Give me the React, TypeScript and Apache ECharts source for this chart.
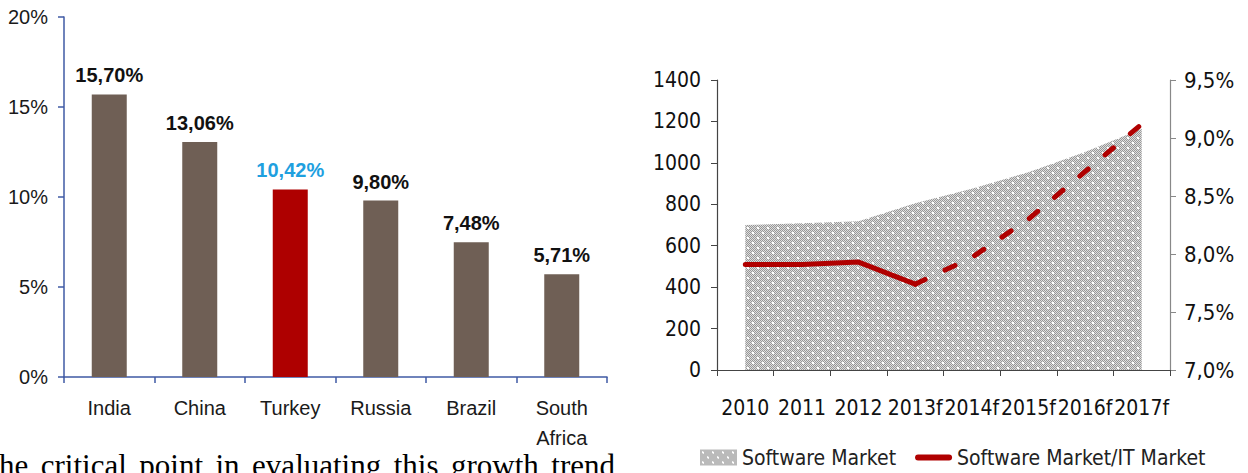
import React, { useEffect, useRef } from "react";
import * as echarts from "echarts";

// ---- Left chart data ----
const countries = ["India", "China", "Turkey", "Russia", "Brazil", "South Africa"];
const growthRates = [15.7, 13.06, 10.42, 9.8, 7.48, 5.71];
const highlightCountry = "Turkey";

// ---- Right chart data ----
const years = ["2010", "2011", "2012", "2013f", "2014f", "2015f", "2016f", "2017f"];
const softwareMarket = [700, 708, 718, 805, 875, 955, 1052, 1165];
const shareActual = [7.91, 7.91, 7.93, 7.74, null, null, null, null];
const shareForecast = [null, null, null, 7.74, 7.97, 8.3, 8.71, 9.12];

// ---- Text below ----
const bodyWords = ["he", "critical", "point", "in", "evaluating", "this", "growth", "trend"];

const SANS = "'Liberation Sans', Arial, sans-serif";
const COND = "'DejaVu Sans Condensed', 'DejaVu Sans', sans-serif";
const SERIF_FONT = "31px 'Liberation Serif', 'Times New Roman', serif";

function makePattern() {
  const c = document.createElement("canvas");
  c.width = 10;
  c.height = 10;
  const ctx = c.getContext("2d")!;
  for (let y = 0; y < 10; y++) {
    for (let x = 0; x < 10; x++) {
      ctx.fillStyle = (x + y) % 2 === 0 ? "#969696" : "#dedede";
      ctx.fillRect(x, y, 1, 1);
    }
  }
  ctx.fillStyle = "#ffffff";
  ctx.fillRect(2, 2, 2, 2);
  ctx.fillRect(7, 7, 2, 2);
  return { image: c, repeat: "repeat", imageWidth: 10, imageHeight: 10 } as any;
}

function justifiedWords(words: string[], totalWidth: number) {
  const ctx = document.createElement("canvas").getContext("2d")!;
  ctx.font = SERIF_FONT;
  const widths = words.map((w) => ctx.measureText(w).width);
  const sum = widths.reduce((a, b) => a + b, 0);
  const gap = (totalWidth - sum) / (words.length - 1);
  let x = -1;
  return words.map((w, i) => {
    const el = {
      type: "text",
      x,
      y: 465.5,
      silent: true,
      style: { text: w, font: SERIF_FONT, fill: "#000", verticalAlign: "middle", align: "left" },
    };
    x += widths[i] + gap;
    return el;
  });
}

export default function App() {
  const ref = useRef<HTMLDivElement>(null);
  useEffect(() => {
    if (!ref.current) return;
    const chart = echarts.init(ref.current, null, { renderer: "svg" });
    const pattern = makePattern();
    const blue = "#3f5aa4";
    const option: any = {
      animation: false,
      backgroundColor: "#ffffff",
      grid: [
        { left: 64, top: 17, width: 543, height: 360 },
        { left: 717, top: 80, width: 453, height: 290 },
      ],
      xAxis: [
        {
          gridIndex: 0,
          type: "category",
          data: countries,
          axisLine: { lineStyle: { color: blue, width: 1.5 } },
          axisTick: { show: true, interval: 0, length: 6, lineStyle: { color: blue, width: 1.5 } },
          axisLabel: {
            interval: 0,
            margin: 16,
            fontFamily: SANS,
            fontSize: 20,
            lineHeight: 30,
            color: "#1a1a1a",
            formatter: (v: string) => v.replace(" ", "\n"),
          },
        },
        {
          gridIndex: 1,
          type: "category",
          data: years,
          axisLine: { lineStyle: { color: "#444", width: 1.2 } },
          axisTick: { show: true, interval: 0, length: 6, lineStyle: { color: "#444" } },
          axisLabel: {
            interval: 0,
            margin: 27,
            fontFamily: COND,
            fontSize: 21,
            color: "#111",
          },
        },
      ],
      yAxis: [
        {
          gridIndex: 0,
          type: "value",
          min: 0,
          max: 20,
          interval: 5,
          axisLine: { show: true, lineStyle: { color: blue, width: 1.5 } },
          axisTick: { show: true, length: 6, lineStyle: { color: blue, width: 1.5 } },
          splitLine: { show: false },
          axisLabel: { formatter: "{value}%", margin: 16, fontFamily: SANS, fontSize: 20, color: "#1a1a1a" },
        },
        {
          gridIndex: 1,
          type: "value",
          position: "left",
          min: 0,
          max: 1400,
          interval: 200,
          axisLine: { show: true, lineStyle: { color: "#444", width: 1.2 } },
          axisTick: { show: true, length: 6, lineStyle: { color: "#444" } },
          splitLine: { show: false },
          axisLabel: {
            margin: 16,
            fontFamily: COND,
            fontSize: 21,
            color: "#111",
            formatter: (v: number) => String(v),
          },
        },
        {
          gridIndex: 1,
          type: "value",
          position: "right",
          min: 7,
          max: 9.5,
          interval: 0.5,
          axisLine: { show: true, lineStyle: { color: "#888", width: 1.2 } },
          axisTick: { show: true, length: 6, lineStyle: { color: "#888" } },
          splitLine: { show: false },
          axisLabel: {
            margin: 14,
            fontFamily: COND,
            fontSize: 22,
            color: "#111",
            formatter: (v: number) => v.toFixed(1).replace(".", ",") + "%",
          },
        },
      ],
      legend: {
        left: 700,
        top: 447,
        padding: 0,
        itemWidth: 37,
        itemHeight: 16,
        itemGap: 19,
        textStyle: { fontFamily: COND, fontSize: 21, color: "#222" },
        data: [
          { name: "Software Market", icon: "rect", itemStyle: { color: pattern } },
          {
            name: "Software Market/IT Market",
            icon: "path://M3,0 H34 A3,3 0 0 1 34,6 H3 A3,3 0 0 1 3,0 Z",
            itemStyle: { color: "#b00000" },
          },
        ],
      },
      graphic: justifiedWords(bodyWords, 616),
      series: [
        {
          type: "bar",
          xAxisIndex: 0,
          yAxisIndex: 0,
          barWidth: 35,
          data: countries.map((c, i) => ({
            value: growthRates[i],
            itemStyle: { color: c === highlightCountry ? "#ae0000" : "#6f5f55" },
            label: { color: c === highlightCountry ? "#1ea0df" : "#111" },
          })),
          label: {
            show: true,
            position: "top",
            distance: 9,
            fontFamily: SANS,
            fontWeight: "bold",
            fontSize: 20,
            formatter: (p: any) => p.value.toFixed(2).replace(".", ",") + "%",
          },
        },
        {
          name: "Software Market",
          type: "line",
          xAxisIndex: 1,
          yAxisIndex: 1,
          data: softwareMarket,
          symbol: "none",
          lineStyle: { width: 0 },
          areaStyle: { color: pattern, opacity: 1 },
          z: 1,
        },
        {
          name: "Software Market/IT Market",
          type: "line",
          xAxisIndex: 1,
          yAxisIndex: 2,
          data: shareActual,
          symbol: "none",
          lineStyle: { color: "#b00000", width: 5, cap: "round", join: "round" },
          itemStyle: { color: "#b00000" },
          z: 3,
        },
        {
          name: "Software Market/IT Market",
          type: "line",
          xAxisIndex: 1,
          yAxisIndex: 2,
          data: shareForecast,
          symbol: "none",
          lineStyle: { color: "#b00000", width: 5, type: [11, 22], cap: "round", join: "round" },
          itemStyle: { color: "#b00000" },
          z: 3,
        },
      ],
    };
    chart.setOption(option);
    return () => chart.dispose();
  }, []);
  return (
    <div
      ref={ref}
      style={{ position: "fixed", left: 0, top: 0, width: 1248, height: 473, background: "#fff" }}
    />
  );
}
